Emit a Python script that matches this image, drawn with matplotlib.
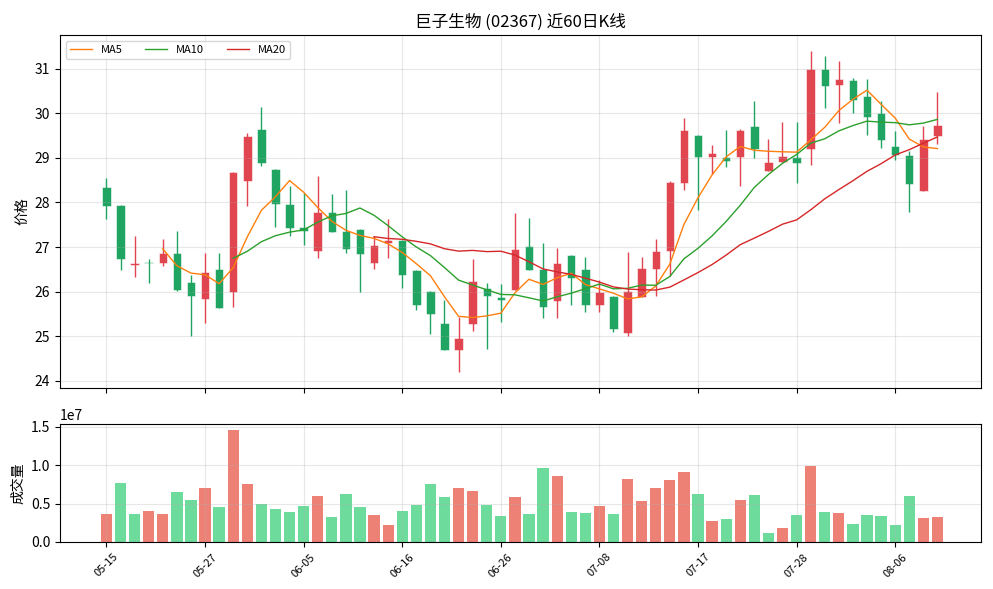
import numpy as np
import pandas as pd
import matplotlib
matplotlib.use('Agg')
import matplotlib.pyplot as plt

plt.rcParams['font.family'] = ['Noto Sans CJK SC', 'DejaVu Sans']
plt.rcParams['axes.unicode_minus'] = False

# daily OHLC
opens = [28.34, 27.94, 26.59, 26.65, 26.63, 26.87, 26.22, 25.84, 26.51, 26.00,
         28.49, 29.64, 28.75, 27.96, 27.44, 26.92, 27.78, 27.36, 27.40, 26.63,
         27.10, 27.16, 26.49, 26.01, 25.29, 24.68, 25.28, 26.07, 25.88, 26.04,
         27.03, 26.50, 25.78, 26.82, 26.51, 25.69, 25.91, 25.08, 25.88, 26.51,
         26.90, 28.44, 29.51, 29.01, 29.01, 29.01, 29.71, 28.71, 28.91, 29.01,
         29.20, 31.00, 30.63, 30.75, 30.40, 30.00, 29.26, 29.06, 28.25, 29.49]
closes = [27.93, 26.74, 26.62, 26.63, 26.87, 26.04, 25.91, 26.44, 25.62, 28.68,
          29.49, 28.89, 27.97, 27.43, 27.37, 27.78, 27.34, 26.96, 26.85, 27.04,
          27.16, 26.38, 25.70, 25.50, 24.68, 24.96, 26.24, 25.89, 25.80, 26.96,
          26.49, 25.66, 26.64, 26.31, 25.69, 26.00, 25.17, 26.01, 26.53, 26.91,
          28.46, 29.62, 29.01, 29.10, 28.93, 29.63, 29.19, 28.90, 29.04, 28.89,
          31.00, 30.61, 30.78, 30.30, 29.92, 29.41, 29.07, 28.42, 29.42, 29.73]
highs = [28.54, 27.94, 27.25, 26.74, 27.19, 27.37, 26.37, 26.86, 26.86, 28.68,
         29.57, 30.14, 28.75, 28.38, 28.22, 28.60, 28.20, 28.27, 27.40, 27.25,
         27.64, 27.16, 26.49, 26.01, 25.80, 25.43, 26.73, 26.20, 26.16, 27.76,
         27.66, 27.10, 26.97, 26.82, 26.77, 26.25, 25.91, 26.88, 26.77, 27.19,
         28.49, 29.90, 29.51, 29.28, 29.62, 29.65, 30.28, 29.43, 29.80, 29.80,
         31.40, 31.29, 31.18, 30.80, 30.78, 30.28, 29.60, 29.16, 29.72, 30.48]
lows = [27.64, 26.49, 26.32, 26.19, 26.58, 26.01, 25.01, 25.29, 25.62, 25.65,
        27.91, 28.81, 27.46, 27.25, 27.04, 26.76, 27.34, 26.86, 26.00, 26.50,
        26.76, 26.07, 25.59, 25.05, 24.68, 24.19, 25.12, 24.72, 25.31, 26.04,
        26.49, 25.40, 25.40, 25.69, 25.54, 25.54, 25.09, 25.01, 25.88, 25.89,
        26.35, 28.29, 27.84, 28.63, 28.80, 28.38, 28.99, 28.71, 28.91, 28.43,
        28.85, 30.13, 29.79, 30.02, 29.52, 29.23, 28.96, 27.78, 28.25, 29.32]
# volume in millions of shares
volumes = [3.65, 7.70, 3.65, 4.04, 3.65, 6.52, 5.48, 7.04, 4.57, 14.6,
           7.57, 4.96, 4.30, 3.91, 4.70, 6.00, 3.26, 6.26, 4.57, 3.52,
           2.22, 4.04, 4.83, 7.57, 5.87, 7.04, 6.65, 4.83, 3.39, 5.87,
           3.65, 9.65, 8.61, 3.91, 3.78, 4.70, 3.65, 8.22, 5.35, 7.04,
           8.09, 9.13, 6.26, 2.74, 3.00, 5.48, 6.13, 1.17, 1.83, 3.52,
           9.91, 3.91, 3.78, 2.35, 3.52, 3.39, 2.22, 6.00, 3.13, 3.26]
tick_labels = ['05-15', '05-27', '06-05', '06-16', '06-26', '07-08', '07-17', '07-28', '08-06']

df = pd.DataFrame({'open': opens, 'close': closes, 'high': highs, 'low': lows,
                   'volume': np.array(volumes) * 1e6})
x = np.arange(len(df))
df['ma5'] = df['close'].rolling(5).mean()
df['ma10'] = df['close'].rolling(10).mean()
df['ma20'] = df['close'].rolling(20).mean()

up = df['close'] >= df['open']
candle_col = np.where(up, '#e04550', '#1fa461')
vol_up = (df['close'].diff().fillna(0) >= 0)
vol_col = np.where(vol_up, '#e74c3c', '#2ecc71')

fig, (ax1, ax2) = plt.subplots(2, 1, figsize=(9.93, 5.89), sharex=True,
                               gridspec_kw={'height_ratios': [3, 1]})

# candles
ax1.vlines(x, df['low'], df['high'], colors=candle_col, linewidth=1)
body_h = (df['close'] - df['open']).abs().clip(lower=0.04)
ax1.bar(x, body_h, bottom=df[['open', 'close']].min(axis=1), width=0.6,
        color=candle_col, edgecolor='white', linewidth=0.4)

ax1.plot(x, df['ma5'], color='#ff7f0e', linewidth=1, label='MA5')
ax1.plot(x, df['ma10'], color='#2ca02c', linewidth=1, label='MA10')
ax1.plot(x, df['ma20'], color='#d62728', linewidth=1, label='MA20')

ax1.set_title('巨子生物 (02367) 近60日K线', fontsize=12)
ax1.set_ylabel('价格')
ax1.legend(loc='upper left', ncol=3, fontsize=8)
ax1.grid(True, alpha=0.3)
ax1.tick_params(labelbottom=False)

ax2.bar(x, df['volume'], width=0.8, color=vol_col, alpha=0.7)
ax2.set_ylabel('成交量')
ax2.grid(True, alpha=0.3)

tick_pos = x[::7][:len(tick_labels)]
ax2.set_xticks(tick_pos)
ax2.set_xticklabels(tick_labels, rotation=45, fontsize=8)
ax2.set_xlim(-3.3, 62.1)

plt.subplots_adjust(left=0.0604, right=0.988, top=0.9406, bottom=0.0798, hspace=0.153)
plt.savefig('out.png', dpi=100)
